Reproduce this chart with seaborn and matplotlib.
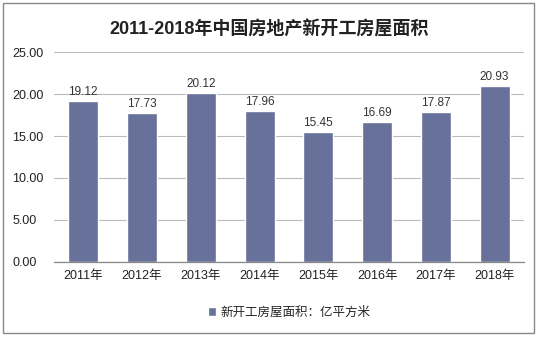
import matplotlib
matplotlib.use("Agg")
import matplotlib.pyplot as plt
import seaborn as sns
import pandas as pd
from matplotlib.patches import Rectangle

years = ["2011年", "2012年", "2013年", "2014年", "2015年", "2016年", "2017年", "2018年"]
area = [19.12, 17.73, 20.12, 17.96, 15.45, 16.69, 17.87, 20.93]
yticks = [0, 5, 10, 15, 20, 25]
title = "2011-2018年中国房地产新开工房屋面积"
series_name = "新开工房屋面积：亿平方米"

sns.set_theme(style="white")
plt.rcParams["font.family"] = ["Liberation Sans", "Noto Sans CJK SC", "DejaVu Sans"]

df = pd.DataFrame({"year": years, "area": area})
bar_color = "#67719A"

fig = plt.figure(figsize=(5.38, 3.38), dpi=100)
ax = fig.add_axes([0.100, 0.225, 0.874, 0.621])

sns.barplot(data=df, x="year", y="area", color=bar_color, width=0.51,
            saturation=1, ax=ax, label=series_name)

for i, v in enumerate(area):
    ax.text(i, v + 0.35, f"{v:.2f}", ha="center", va="bottom", fontsize=8.5, color="#333333")

ax.set_ylim(0, 25)
ax.set_yticks(yticks)
ax.set_yticklabels([f"{t:.2f}" for t in yticks], fontsize=9, color="#222222")
ax.tick_params(axis="x", labelsize=9, colors="#222222", length=0, pad=6)
ax.tick_params(axis="y", length=0, pad=30)
for lab in ax.get_yticklabels():
    lab.set_horizontalalignment("left")
ax.yaxis.grid(True, color="#BBBBBB", linewidth=0.8)
ax.set_axisbelow(True)
ax.set_xlabel("")
ax.set_ylabel("")
for s in ["top", "right", "left"]:
    ax.spines[s].set_visible(False)
ax.spines["bottom"].set_color("#888888")
ax.spines["bottom"].set_linewidth(0.9)

ax.legend(loc="center", bbox_to_anchor=(0.5, -0.24), frameon=False, fontsize=9,
          handlelength=0.7, handleheight=0.7, handletextpad=0.3)

fig.suptitle(title, y=0.94, fontsize=13, fontweight="bold", color="#222222")

fig.patches.append(Rectangle((0.006, 0.015), 0.986, 0.975, transform=fig.transFigure,
                             fill=False, edgecolor="#888888", linewidth=1))

fig.savefig("out.png", dpi=100)
